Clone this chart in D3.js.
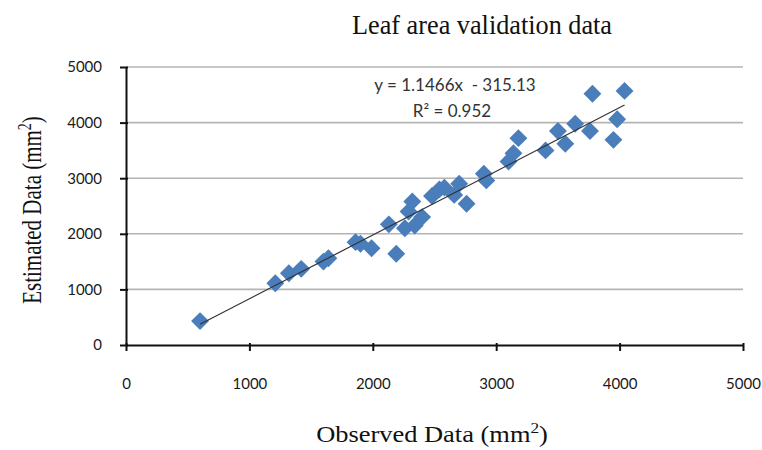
<!DOCTYPE html>
<html>
<head>
<meta charset="utf-8">
<script src="https://cdn.jsdelivr.net/npm/d3@7"></script>
<style>
  html, body { margin: 0; padding: 0; background: #fff; }
  svg { display: block; }
</style>
</head>
<body>
<div id="chart"></div>
<script>
// ---- Data ----
const observed = [600, 1210, 1320, 1420, 1600, 1640, 1860, 1900, 1990, 2130, 2190, 2260, 2290, 2320, 2340, 2400,
  2480, 2540, 2580, 2660, 2700, 2760, 2900, 2920, 3100, 3140, 3180, 3400, 3500, 3560, 3640, 3760, 3780, 3950, 3980, 4040];
const estimated = [430, 1110, 1290, 1370, 1500, 1560, 1850, 1820, 1740, 2170, 1640, 2100, 2400, 2580, 2150, 2300,
  2680, 2800, 2830, 2700, 2900, 2540, 3080, 2960, 3300, 3450, 3720, 3500, 3850, 3620, 3980, 3850, 4520, 3690, 4060, 4570];
const xTicks = [0, 1000, 2000, 3000, 4000, 5000];
const yTicks = [0, 1000, 2000, 3000, 4000, 5000];
const slope = 1.1466, intercept = -315.13;
const titleText = "Leaf area validation data";
const eqText = "y = 1.1466x  - 315.13";
const r2Text = "R\u00B2 = 0.952";

const W = 762, H = 450;
const svg = d3.select("#chart").append("svg").attr("width", W).attr("height", H);

const x = d3.scaleLinear().domain([0, 5000]).range([126, 743]);
const y = d3.scaleLinear().domain([0, 5000]).range([345, 67]);

// gridlines
svg.append("g").selectAll("line").data(yTicks.filter(d => d > 0)).join("line")
  .attr("x1", x(0)).attr("x2", x(5000))
  .attr("y1", d => y(d)).attr("y2", d => y(d))
  .attr("stroke", "#b4b4b4").attr("stroke-width", 1.6);

const tickFont = "Lato, 'Open Sans', sans-serif";
const serif = "'Liberation Serif', 'Times New Roman', serif";
const fmt = d3.format("d");

// x axis
const xAxis = svg.append("g").attr("transform", `translate(0,${y(0)})`)
  .call(d3.axisBottom(x).tickValues(xTicks).tickFormat(fmt).tickSize(6).tickSizeOuter(0).tickPadding(27));
xAxis.select(".domain").attr("stroke", "#111").attr("stroke-width", 2);
xAxis.selectAll(".tick line").attr("stroke", "#111").attr("stroke-width", 2).attr("y1", -2);
xAxis.selectAll(".tick text").attr("font-family", tickFont).attr("font-size", 15).attr("fill", "#1a1a1a");

// y axis
const yAxis = svg.append("g").attr("transform", `translate(${x(0)},0)`)
  .call(d3.axisLeft(y).tickValues(yTicks).tickFormat(fmt).tickSize(6).tickSizeOuter(0).tickPadding(18));
yAxis.select(".domain").attr("stroke", "#111").attr("stroke-width", 2);
yAxis.selectAll(".tick line").attr("stroke", "#111").attr("stroke-width", 2).attr("x1", 2);
yAxis.selectAll(".tick text").attr("font-family", tickFont).attr("font-size", 15).attr("fill", "#1a1a1a");

// points (diamonds)
const pts = observed.map((v, i) => ({ x: v, y: estimated[i] }));
const sym = d3.symbol().type(d3.symbolSquare).size(160);
svg.append("g").selectAll("path").data(pts).join("path")
  .attr("d", sym)
  .attr("transform", d => `translate(${x(d.x)},${y(d.y)}) rotate(45)`)
  .attr("fill", "#4a7ebb");

// trend line
const xMin = d3.min(observed), xMax = d3.max(observed);
svg.append("line")
  .attr("x1", x(xMin)).attr("y1", y(slope * xMin + intercept))
  .attr("x2", x(xMax)).attr("y2", y(slope * xMax + intercept))
  .attr("stroke", "#333").attr("stroke-width", 1.2);

// equation labels
svg.append("text").attr("x", 455).attr("y", 91).attr("text-anchor", "middle")
  .attr("font-family", tickFont).attr("font-size", 17).attr("fill", "#333")
  .style("white-space", "pre").text(eqText);
svg.append("text").attr("x", 452).attr("y", 117).attr("text-anchor", "middle")
  .attr("font-family", tickFont).attr("font-size", 17).attr("fill", "#333").text(r2Text);

// title
svg.append("text").attr("x", 482).attr("y", 34).attr("text-anchor", "middle")
  .attr("font-family", serif).attr("font-size", 27)
  .attr("textLength", 260).attr("lengthAdjust", "spacingAndGlyphs")
  .attr("fill", "#111").text(titleText);

// axis titles
const xt = svg.append("text").attr("transform", "translate(432,442) scale(1.15,1)").attr("text-anchor", "middle")
  .attr("font-family", serif).attr("font-size", 23).attr("fill", "#111");
xt.append("tspan").text("Observed Data (mm");
xt.append("tspan").attr("font-size", 15).attr("dy", -9).text("2");
xt.append("tspan").attr("dy", 9).text(")");

const yt = svg.append("text").attr("transform", "translate(41,210) rotate(-90) scale(1,1.3)").attr("text-anchor", "middle")
  .attr("font-family", serif).attr("font-size", 21).attr("fill", "#111");
yt.append("tspan").text("Estimated Data (mm");
yt.append("tspan").attr("font-size", 14).attr("dy", -8).text("2");
yt.append("tspan").attr("dy", 8).text(")");
</script>
</body>
</html>
